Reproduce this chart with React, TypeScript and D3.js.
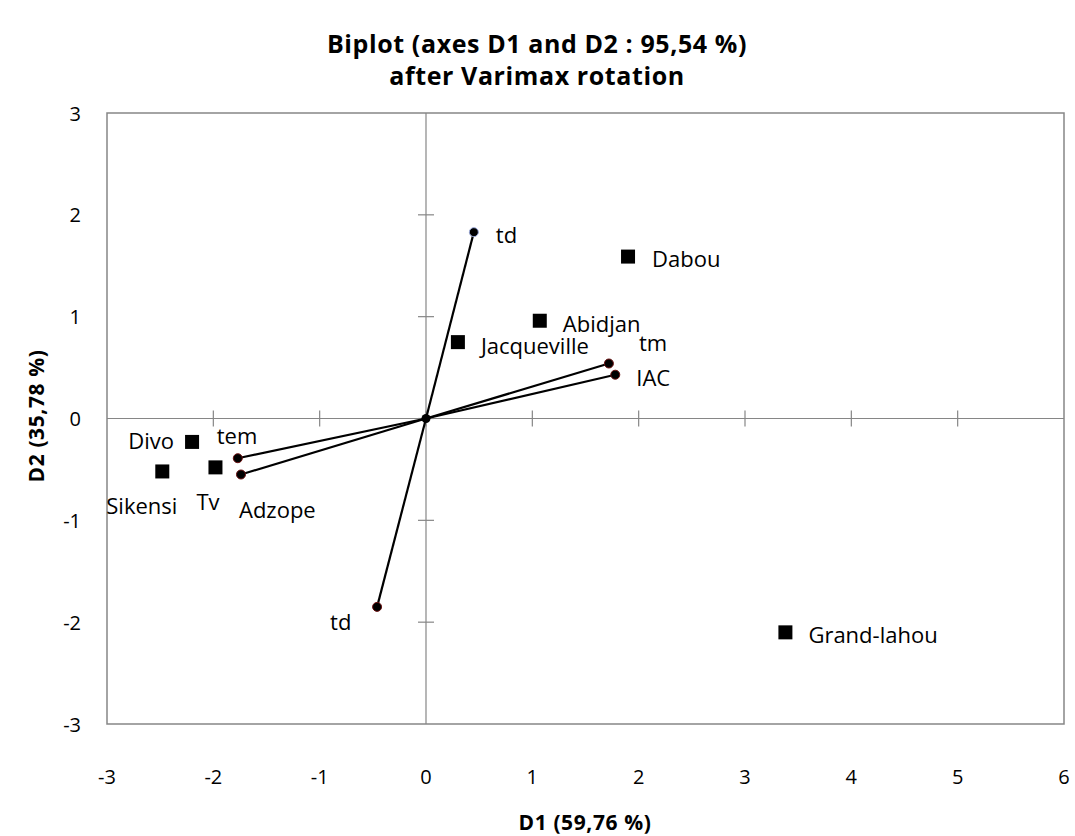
import React, { useEffect, useRef } from 'react'
import * as d3 from 'd3'

// observations (squares)
const obsNames = ['Dabou', 'Abidjan', 'Jacqueville', 'Divo', 'Sikensi', 'Tv', 'Grand-lahou']
const obsX = [1.9, 1.07, 0.3, -2.2, -2.48, -1.98, 3.38]
const obsY = [1.59, 0.96, 0.75, -0.23, -0.52, -0.48, -2.1]

// variables (vectors from origin)
const varNames = ['td', 'tm', 'IAC', 'tem', 'Adzope', 'td']
const varX = [0.45, 1.72, 1.78, -1.77, -1.74, -0.46]
const varY = [1.83, 0.54, 0.43, -0.39, -0.55, -1.85]

const xTicks = [-3, -2, -1, 0, 1, 2, 3, 4, 5, 6]
const yTicks = [-3, -2, -1, 0, 1, 2, 3]

const FONT = "'Open Sans', sans-serif"

export default function App() {
  const ref = useRef<SVGSVGElement>(null)

  useEffect(() => {
    const svg = d3.select(ref.current)
    svg.selectAll('*').remove()

    const left = 107, right = 1064, top = 113, bottom = 724
    const x = d3.scaleLinear().domain([-3, 6]).range([left, right])
    const y = d3.scaleLinear().domain([-3, 3]).range([bottom, top])
    const grey = '#868686'

    svg.append('rect')
      .attr('x', left).attr('y', top)
      .attr('width', right - left).attr('height', bottom - top)
      .attr('fill', 'none').attr('stroke', grey).attr('stroke-width', 1.5)

    // central axes
    svg.append('line')
      .attr('x1', left).attr('x2', right).attr('y1', y(0)).attr('y2', y(0))
      .attr('stroke', grey).attr('stroke-width', 1.2)
    svg.append('line')
      .attr('x1', x(0)).attr('x2', x(0)).attr('y1', top).attr('y2', bottom)
      .attr('stroke', grey).attr('stroke-width', 1.2)

    svg.append('g').selectAll('line').data(xTicks.filter(d => d > -3 && d < 6)).join('line')
      .attr('x1', d => x(d)).attr('x2', d => x(d))
      .attr('y1', y(0) - 8).attr('y2', y(0) + 8)
      .attr('stroke', grey).attr('stroke-width', 1.2)
    svg.append('g').selectAll('line').data(yTicks.filter(d => d > -3 && d < 3)).join('line')
      .attr('x1', x(0) - 8).attr('x2', x(0) + 8)
      .attr('y1', d => y(d)).attr('y2', d => y(d))
      .attr('stroke', grey).attr('stroke-width', 1.2)

    // tick labels
    svg.append('g').selectAll('text').data(xTicks).join('text')
      .attr('x', d => x(d)).attr('y', 776)
      .attr('text-anchor', 'middle').attr('dominant-baseline', 'central')
      .attr('font-family', FONT).attr('font-size', 20)
      .text(d => d)
    svg.append('g').selectAll('text').data(yTicks).join('text')
      .attr('x', 81).attr('y', d => y(d))
      .attr('text-anchor', 'end').attr('dominant-baseline', 'central')
      .attr('font-family', FONT).attr('font-size', 20)
      .text(d => d)

    // vectors
    const vars = varNames.map((n, i) => ({ n, vx: varX[i], vy: varY[i], i }))
    svg.append('g').selectAll('line').data(vars).join('line')
      .attr('x1', x(0)).attr('y1', y(0))
      .attr('x2', d => x(d.vx)).attr('y2', d => y(d.vy))
      .attr('stroke', '#000').attr('stroke-width', 2.2)
    svg.append('g').selectAll('circle').data(vars).join('circle')
      .attr('cx', d => x(d.vx)).attr('cy', d => y(d.vy)).attr('r', 4.5)
      .attr('fill', '#000')
      .attr('stroke', d => d.i === 0 ? '#9aa8d8' : '#6b1010').attr('stroke-width', 1)
    svg.append('circle').attr('cx', x(0)).attr('cy', y(0)).attr('r', 4.5).attr('fill', '#000')

    const varLabelOffset: Record<number, [number, number]> = {
      0: [22, 2], 1: [30, -22], 2: [21, 2], 3: [-21, -23], 4: [-2, 34], 5: [-47, 14],
    }
    svg.append('g').selectAll('text').data(vars).join('text')
      .attr('x', d => x(d.vx) + varLabelOffset[d.i][0])
      .attr('y', d => y(d.vy) + varLabelOffset[d.i][1])
      .attr('dominant-baseline', 'central')
      .attr('font-family', FONT).attr('font-size', 22)
      .text(d => d.n)

    // observations
    const obs = obsNames.map((n, i) => ({ n, ox: obsX[i], oy: obsY[i] }))
    const s = 14
    svg.append('g').selectAll('rect').data(obs).join('rect')
      .attr('x', d => x(d.ox) - s / 2).attr('y', d => y(d.oy) - s / 2)
      .attr('width', s).attr('height', s).attr('fill', '#000')

    const obsLabel: Record<string, [number, number, string]> = {
      Dabou: [24, 1, 'start'], Abidjan: [23, 2, 'start'], Jacqueville: [23, 3, 'start'],
      'Grand-lahou': [23, 2, 'start'], Divo: [-18, -2, 'end'], Sikensi: [-56, 34, 'start'],
      Tv: [-19, 34, 'start'],
    }
    svg.append('g').selectAll('text').data(obs).join('text')
      .attr('x', d => x(d.ox) + obsLabel[d.n][0])
      .attr('y', d => y(d.oy) + obsLabel[d.n][1])
      .attr('text-anchor', d => obsLabel[d.n][2])
      .attr('dominant-baseline', 'central')
      .attr('font-family', FONT).attr('font-size', 22)
      .text(d => d.n)

    // titles
    svg.append('text').attr('x', 537).attr('y', 43)
      .attr('text-anchor', 'middle').attr('dominant-baseline', 'central')
      .attr('font-family', FONT).attr('font-size', 25).attr('font-weight', 'bold')
      .attr('letter-spacing', 0.6)
      .text('Biplot (axes D1 and D2 : 95,54 %)')
    svg.append('text').attr('x', 537).attr('y', 75)
      .attr('text-anchor', 'middle').attr('dominant-baseline', 'central')
      .attr('font-family', FONT).attr('font-size', 25).attr('font-weight', 'bold')
      .attr('letter-spacing', 0.6)
      .text('after Varimax rotation')
    svg.append('text').attr('x', 585).attr('y', 822)
      .attr('text-anchor', 'middle').attr('dominant-baseline', 'central')
      .attr('font-family', FONT).attr('font-size', 21).attr('font-weight', 'bold')
      .attr('letter-spacing', 0.6)
      .text('D1 (59,76 %)')
    svg.append('text')
      .attr('transform', 'translate(36,416) rotate(-90)')
      .attr('text-anchor', 'middle').attr('dominant-baseline', 'central')
      .attr('font-family', FONT).attr('font-size', 21).attr('font-weight', 'bold')
      .attr('letter-spacing', 0.6)
      .text('D2 (35,78 %)')
  }, [])

  return (
    <div style={{ position: 'absolute', left: 0, top: 0 }}>
      <svg ref={ref} width={1075} height={836} style={{ display: 'block', background: '#fff' }} />
    </div>
  )
}
